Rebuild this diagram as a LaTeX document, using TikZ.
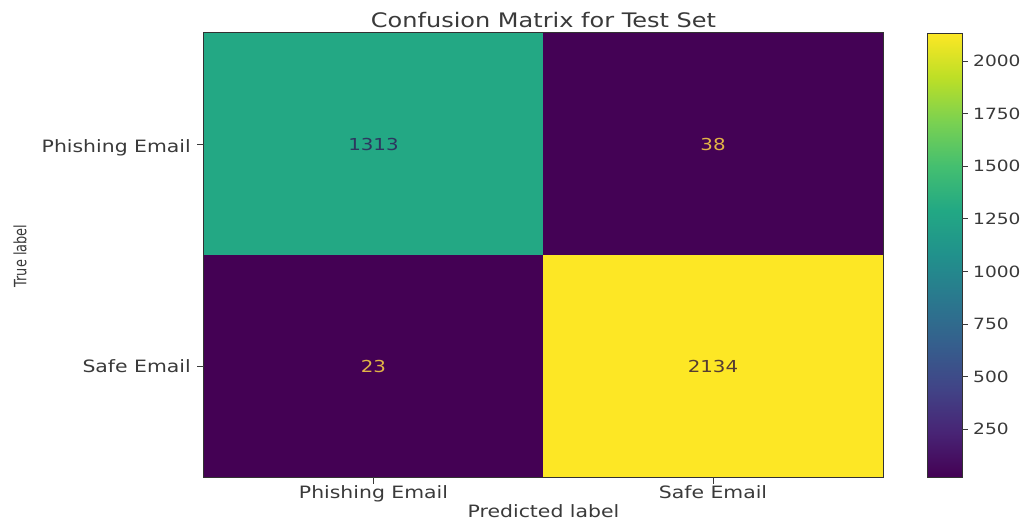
\documentclass[tikz,border=0pt]{standalone}
\usepackage{fontspec}
\setmainfont{DejaVu Sans}[FakeStretch=1.2]
\newfontfamily\narrowfont{DejaVu Sans}
\definecolor{v0}{RGB}{68,1,84}
\definecolor{v1}{RGB}{72,36,117}
\definecolor{v2}{RGB}{65,68,135}
\definecolor{v3}{RGB}{53,95,141}
\definecolor{v4}{RGB}{42,120,142}
\definecolor{v5}{RGB}{33,145,140}
\definecolor{v6}{RGB}{34,168,132}
\definecolor{v7}{RGB}{68,191,112}
\definecolor{v8}{RGB}{122,209,81}
\definecolor{v9}{RGB}{189,223,38}
\definecolor{v10}{RGB}{253,231,37}
\definecolor{c11}{RGB}{35,168,132}
\definecolor{c12}{RGB}{68,2,85}
\definecolor{c21}{RGB}{68,1,84}
\definecolor{c22}{RGB}{253,231,37}
\definecolor{tickgray}{RGB}{58,58,58}
\definecolor{framegray}{RGB}{50,50,50}
\definecolor{darktxt}{RGB}{45,55,95}
\definecolor{browntxt}{RGB}{85,60,50}
\definecolor{goldtxt}{RGB}{225,180,70}
\pgfdeclareverticalshading{viridis}{100bp}{color(0bp)=(v0); color(25bp)=(v0); color(30bp)=(v1); color(35bp)=(v2); color(40bp)=(v3); color(45bp)=(v4); color(50bp)=(v5); color(55bp)=(v6); color(60bp)=(v7); color(65bp)=(v8); color(70bp)=(v9); color(75bp)=(v10); color(100bp)=(v10)}
\begin{document}
\begin{tikzpicture}[x=1pt,y=-1pt,
  lbl/.style={text=tickgray, font=\fontsize{17}{20}\selectfont, inner sep=0pt},
  cbl/.style={text=tickgray, font=\fontsize{15.5}{18}\selectfont, inner sep=0pt, anchor=west},
  cell/.style={inner sep=0pt, minimum height=222pt, font=\fontsize{16.5}{19}\selectfont},
  tickline/.style={draw=tickgray, line width=0.9pt},
  frame/.style={draw=framegray, line width=0.9pt}]
\fill[white] (0,0) rectangle (1028,520);
\useasboundingbox (0,0) rectangle (1028,520);
% title
\node[lbl, anchor=base, font=\fontsize{20}{24}\selectfont] (title) at (543.5,27) {Confusion Matrix for Test Set};
% cells
\node[cell, fill=c11, text=darktxt, minimum width=339pt] (c11) at (373.5,144) {1313};
\node[cell, fill=c12, text=goldtxt, minimum width=340pt] (c12) at (713,144) {38};
\node[cell, fill=c21, text=goldtxt, minimum width=339pt] (c21) at (373.5,366) {23};
\node[cell, fill=c22, text=browntxt, minimum width=340pt] (c22) at (713,366) {2134};
\draw[frame] (c11.north west) rectangle (c22.south east);
% y ticks
\coordinate (yt1) at ([xshift=-7pt]c11.west);
\coordinate (yt2) at ([xshift=-7pt]c21.west);
\draw[tickline] (c11.west) -- (yt1);
\draw[tickline] (c21.west) -- (yt2);
\node[lbl, anchor=base east] (yl1) at (191,152) {Phishing Email};
\node[lbl, anchor=base east] (yl2) at (191,372) {Safe Email};
% x ticks
\coordinate (xt1) at ([yshift=-7pt]c21.south);
\coordinate (xt2) at ([yshift=-7pt]c22.south);
\draw[tickline] (c21.south) -- (xt1);
\draw[tickline] (c22.south) -- (xt2);
\node[lbl, anchor=base] (xl1) at (373.5,498) {Phishing Email};
\node[lbl, anchor=base] (xl2) at (713,498) {Safe Email};
% axis labels
\node[lbl, anchor=base] (xlab) at (543.5,517) {Predicted label};
\node[text=tickgray, inner sep=0pt, rotate=90] (ylab) at (20,256) {\scalebox{0.76}[1]{\narrowfont\fontsize{17}{20}\selectfont True label}};
% colorbar
\node[shade, shading=viridis, draw=framegray, line width=0.9pt, inner sep=0pt, minimum width=35pt, minimum height=444pt] (cbar) at (944.5,255) {};
\foreach \v in {250,500,750,1000,1250,1500,1750,2000} {
  \pgfmathsetmacro\yy{477-(\v-23)/2111*444}
  \coordinate (cbt\v) at (962,\yy);
  \draw[tickline] (cbt\v) -- ++(6,0);
  \node[cbl] (cbl\v) at (973,\yy) {\v};
}
\end{tikzpicture}
\end{document}
